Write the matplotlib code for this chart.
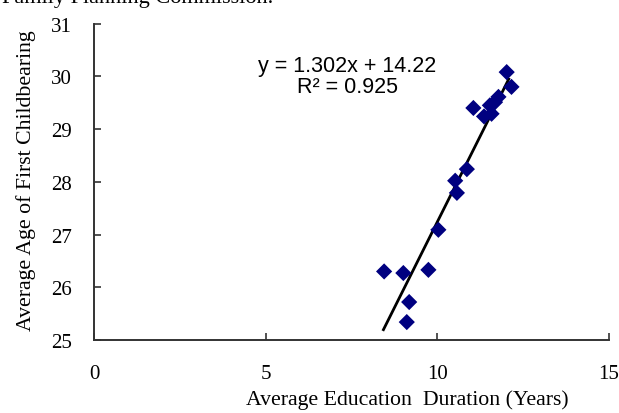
import matplotlib
matplotlib.use("Agg")
import matplotlib.pyplot as plt
import numpy as np

# Data
edu_years = [8.45, 9.01, 9.11, 9.18, 9.74, 10.03, 10.52, 10.57, 10.86,
             11.05, 11.36, 11.53, 11.58, 11.68, 11.78, 12.02, 12.16]
first_birth_age = [26.30, 26.27, 25.34, 25.72, 26.33, 27.09, 28.02, 27.79, 28.24,
                   29.40, 29.24, 29.45, 29.29, 29.51, 29.61, 30.08, 29.80]
slope, intercept = 1.302, 14.22
r2 = 0.925
x_ticks = [0, 5, 10, 15]
y_ticks = [25, 26, 27, 28, 29, 30, 31]

serif = ["Liberation Serif", "DejaVu Serif"]
sans = ["Liberation Sans", "DejaVu Sans"]

W, H = 619, 414
fig = plt.figure(figsize=(W / 100, H / 100), dpi=100)
ax = fig.add_axes([94 / W, (H - 341) / H, (609 - 94) / W, (341 - 24.6) / H])

ax.scatter(edu_years, first_birth_age, marker="D", s=68, color="#000080",
           edgecolors="none", zorder=3)
xl = np.array([min(edu_years) - 0.02, max(edu_years) - 0.08])
ax.plot(xl, slope * xl + intercept, color="black", lw=2.0, zorder=2)

ax.set_xlim(0, 15)
ax.set_ylim(25, 31)
ax.set_xticks(x_ticks)
ax.set_yticks(y_ticks)
ax.set_xticklabels([str(t) for t in x_ticks], family=serif, fontsize=15)
ax.set_yticklabels([str(t) for t in y_ticks], family=serif, fontsize=15)
ax.tick_params(axis="x", direction="in", length=5, width=1.2, pad=17, color="#333333")
ax.tick_params(axis="y", direction="in", length=5, width=1.2, pad=16, color="#333333")
for s in ["top", "right"]:
    ax.spines[s].set_visible(False)
for s in ["left", "bottom"]:
    ax.spines[s].set_linewidth(1.4)
    ax.spines[s].set_color("#333333")

ax.set_xlabel("Average Education  Duration (Years)", family=serif, fontsize=15.7)
ax.xaxis.set_label_coords((407 - 94) / 515, -0.155)
ax.set_ylabel("Average Age of First Childbearing", family=serif, fontsize=15.7)
ax.yaxis.set_label_coords(-0.113, 0.506)

ax.text(0.492, (341 - 56) / 316.4, "y = 1.302x + 14.22\nR² = 0.925", transform=ax.transAxes,
        ha="center", va="top", family=sans, fontsize=15.5, linespacing=1.0)

fig.text(2 / W, 1 - 3 / H, "Family Planning Commission.", family=serif, fontsize=16,
         ha="left", va="baseline")

fig.savefig("out.png", dpi=100)
